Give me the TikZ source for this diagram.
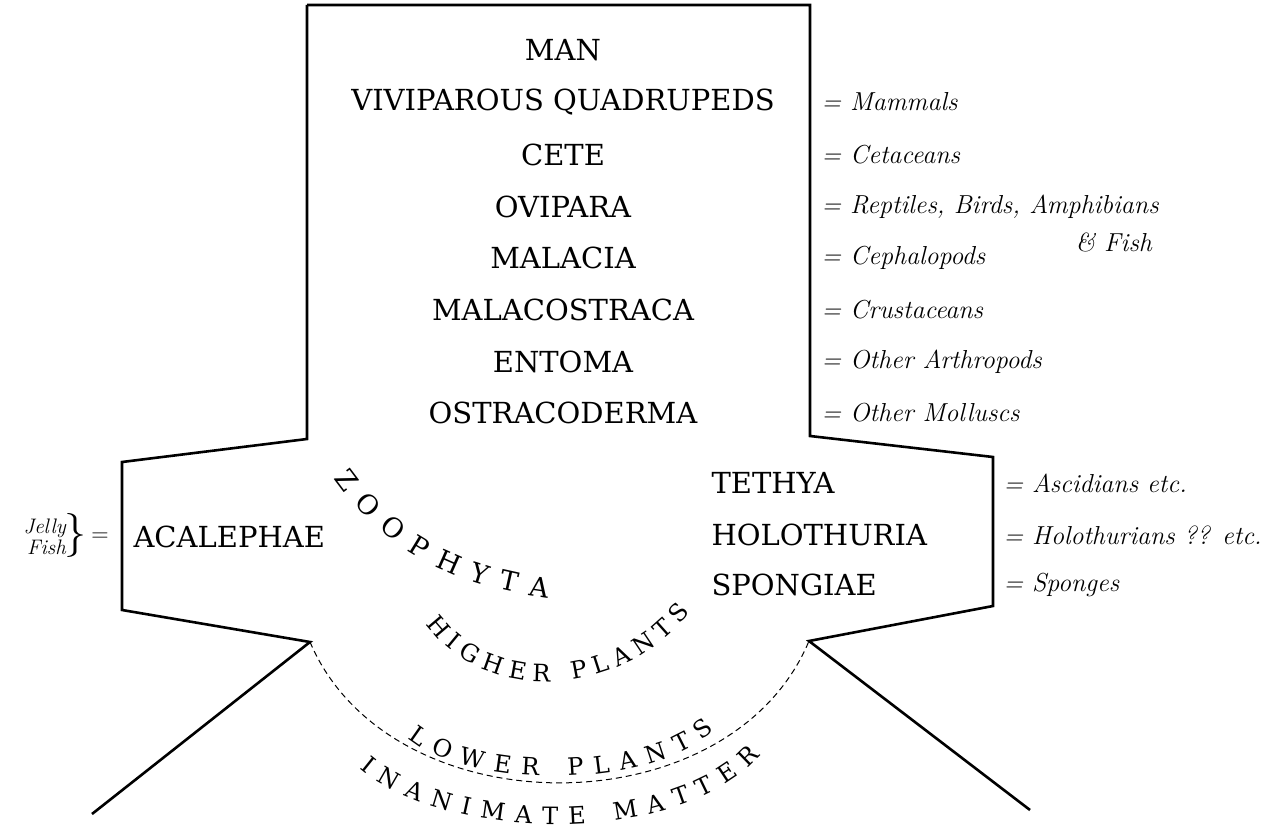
\documentclass[tikz,border=0pt]{standalone}
\usepackage{fontspec}
\setmainfont{DejaVu Serif}
\newfontfamily\notefont{Latin Modern Roman}
\usetikzlibrary{decorations.text}
\begin{document}
\begin{tikzpicture}[x=1pt,y=-1pt,
  outline/.style={line width=2.6pt,line join=miter},
  big/.style={font=\fontsize{29}{30}\selectfont},
  note/.style={font=\fontsize{26}{28}\notefont\itshape,anchor=west},
  arctext/.style={decorate,decoration={text along path,text align=fit to path,text={#1}}}]
\useasboundingbox (0,0) rectangle (1288,832);
\draw[outline] (307,5) -- (810,5) -- (810,436) -- (993,457) -- (993,606) -- (809,641) -- (1030,810);
\draw[outline] (307,5) -- (307,439) -- (122,462) -- (122,610) -- (310,642) -- (92,814);
\draw[line width=1pt,dash pattern=on 6pt off 4pt] (310,642) .. controls (390,830) and (730,830) .. (809,641);
\foreach \t/\y/\n in {MAN/50/a,VIVIPAROUS QUADRUPEDS/102/b,CETE/155/c,OVIPARA/207/d,MALACIA/258/e,MALACOSTRACA/310/f,ENTOMA/362/g,OSTRACODERMA/413/h}
  \node[big] (\n) at (563,\y) {\t};
\node[note] (nb) at (818,102) {= Mammals};
\node[note] (nc) at (818,155) {= Cetaceans};
\node[note] (nd) at (818,207) {= Reptiles, Birds, Amphibians};
\node[note] (nd2) at (1072,242) {\& Fish};
\node[note] (ne) at (818,258) {= Cephalopods};
\node[note] (nf) at (818,310) {= Crustaceans};
\node[note] (ng) at (818,362) {= Other Arthropods};
\node[note] (nh) at (818,413) {= Other Molluscs};
\node[big,anchor=west] (te) at (708,483) {TETHYA};
\node[big,anchor=west] (ho) at (708,535) {HOLOTHURIA};
\node[big,anchor=west] (sp) at (708,585) {SPONGIAE};
\node[big,anchor=west] (ac) at (130,537) {ACALEPHAE};
\node[note] (nte) at (1000,483) {= Ascidians etc.};
\node[note] (nho) at (1000,535) {= Holothurians ?? etc.};
\node[note] (nsp) at (1000,585) {= Sponges};
\node[font=\fontsize{21}{21}\notefont\itshape,align=right,anchor=east,inner sep=0pt] (jf) at (66,537) {Jelly\\Fish};
\node[font=\fontsize{44}{44}\notefont,inner sep=0pt] (br) at (75,535) {\}};
\node[font=\fontsize{24}{24}\notefont] (eq) at (100,537) {=};
\path[arctext={|\fontsize{27}{27}\selectfont|ZOOPHYTA}] (334,478) .. controls (385,550) and (450,585) .. (548,598);
\path[arctext={|\fontsize{24}{24}\selectfont|HIGHER PLANTS}] (426,624) .. controls (480,700) and (615,705) .. (690,612);
\path[arctext={|\fontsize{24}{24}\selectfont|LOWER PLANTS}] (408,738) .. controls (470,790) and (650,790) .. (714,730);
\path[arctext={|\fontsize{24}{24}\selectfont|INANIMATE MATTER}] (360,768) .. controls (450,845) and (680,845) .. (760,756);
\end{tikzpicture}
\end{document}
